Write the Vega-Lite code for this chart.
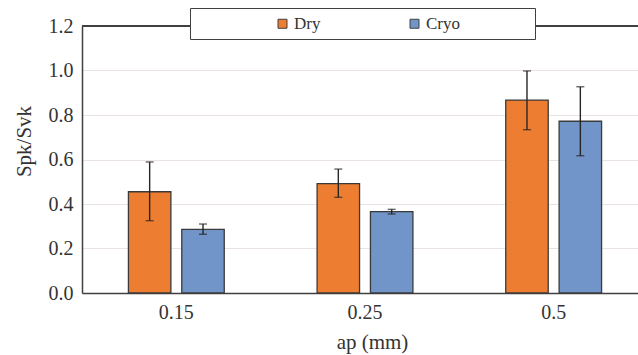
{
  "$schema": "https://vega.github.io/schema/vega-lite/v6.json",
  "width": 556,
  "height": 267,
  "autosize": {"type": "none"},
  "padding": {"left": 82, "top": 26, "right": 0, "bottom": 62},
  "background": "white",
  "config": {
    "view": {"stroke": null},
    "font": "Liberation Serif",
    "axis": {"labelColor": "#333333", "titleColor": "#333333", "titleFontWeight": "normal"}
  },
  "data": {
    "values": [
      {"ap": "0.15", "cond": "Dry", "mean": 0.455, "lo": 0.325, "hi": 0.589},
      {"ap": "0.15", "cond": "Cryo", "mean": 0.286, "lo": 0.264, "hi": 0.31},
      {"ap": "0.25", "cond": "Dry", "mean": 0.492, "lo": 0.43, "hi": 0.557},
      {"ap": "0.25", "cond": "Cryo", "mean": 0.366, "lo": 0.355, "hi": 0.376},
      {"ap": "0.5", "cond": "Dry", "mean": 0.867, "lo": 0.734, "hi": 0.998},
      {"ap": "0.5", "cond": "Cryo", "mean": 0.772, "lo": 0.617, "hi": 0.927}
    ]
  },
  "layer": [
    {
      "mark": {"type": "rule", "color": "#404040", "strokeWidth": 1.5},
      "encoding": {"y": {"datum": 1.2, "type": "quantitative", "scale": {"domain": [0, 1.2]}}}
    },
    {
      "mark": {"type": "bar", "stroke": "#3a3a3a", "strokeWidth": 1.3},
      "encoding": {
        "x": {
          "field": "ap", "type": "nominal", "sort": ["0.15", "0.25", "0.5"],
          "scale": {"range": [0, 566], "paddingInner": 0, "paddingOuter": 0},
          "axis": {
            "title": "ap (mm)", "labelAngle": 0, "ticks": false,
            "domainColor": "#404040", "domainWidth": 1.5,
            "labelFont": "Liberation Serif", "titleFont": "Liberation Serif",
            "labelFontSize": 20, "labelBaseline": "alphabetic", "labelPadding": 25, "labelDx": 4,
            "titleFontSize": 21, "titleX": 290, "titleY": 55, "titleBaseline": "alphabetic"
          }
        },
        "xOffset": {"field": "cond", "type": "nominal", "sort": ["Dry", "Cryo"], "scale": {"domain": ["Dry", "Cryo"], "paddingInner": 0.204, "paddingOuter": 0.87}},
        "y": {
          "field": "mean", "type": "quantitative",
          "scale": {"domain": [0, 1.2]},
          "axis": {
            "title": "Spk/Svk", "values": [0, 0.2, 0.4, 0.6, 0.8, 1.0, 1.2], "format": ".1f",
            "ticks": false, "grid": true, "gridColor": "#EAE2E2", "gridWidth": 1.2,
            "domainColor": "#404040", "domainWidth": 1.5,
            "labelFont": "Liberation Serif", "titleFont": "Liberation Serif",
            "labelFontSize": 20, "labelPadding": 9,
            "titleFontSize": 21, "titleAngle": 270, "titleX": -52, "titleY": 115, "titleBaseline": "alphabetic"
          }
        },
        "color": {
          "field": "cond", "type": "nominal",
          "scale": {"domain": ["Dry", "~1", "Cryo", "~2"], "range": ["#ED7D31", "white", "#7195C8", "white"]},
          "legend": {
            "orient": "none", "legendX": 108, "legendY": -18,
            "direction": "horizontal", "columns": 4, "gridAlign": "each",
            "title": "MMMMMMMM", "titleColor": "white", "titleFont": "Liberation Serif",
            "titleOrient": "left", "titleFontSize": 10, "titlePadding": 1,
            "padding": 7, "strokeColor": "#404040", "fillColor": "white",
            "symbolType": "square", "symbolSize": 81, "symbolStrokeColor": "#404040", "symbolStrokeWidth": 1,
            "labelFont": "Liberation Serif",
            "labelFontSize": 17, "labelColor": "#333333", "labelOffset": 3, "columnPadding": 17,
            "labelExpr": "indexof(datum.value, '~') == 0 ? 'MM' : datum.label",
            "encode": {
              "symbols": {"update": {
                "opacity": {"signal": "indexof(datum.value, '~') == 0 ? 0 : 1"}
              }},
              "labels": {"update": {
                "opacity": {"signal": "indexof(datum.value, '~') == 0 ? 0 : 1"}
              }}
            }
          }
        }
      }
    },
    {
      "mark": {"type": "rule", "color": "#262626", "strokeWidth": 1.4},
      "encoding": {
        "x": {"field": "ap", "type": "nominal", "sort": ["0.15", "0.25", "0.5"]},
        "xOffset": {"field": "cond", "type": "nominal", "sort": ["Dry", "Cryo"]},
        "y": {"field": "lo", "type": "quantitative"},
        "y2": {"field": "hi"}
      }
    },
    {
      "mark": {"type": "tick", "color": "#262626", "size": 8, "thickness": 1.4},
      "encoding": {
        "x": {"field": "ap", "type": "nominal", "sort": ["0.15", "0.25", "0.5"]},
        "xOffset": {"field": "cond", "type": "nominal", "sort": ["Dry", "Cryo"]},
        "y": {"field": "lo", "type": "quantitative"}
      }
    },
    {
      "mark": {"type": "tick", "color": "#262626", "size": 8, "thickness": 1.4},
      "encoding": {
        "x": {"field": "ap", "type": "nominal", "sort": ["0.15", "0.25", "0.5"]},
        "xOffset": {"field": "cond", "type": "nominal", "sort": ["Dry", "Cryo"]},
        "y": {"field": "hi", "type": "quantitative"}
      }
    }
  ]
}
